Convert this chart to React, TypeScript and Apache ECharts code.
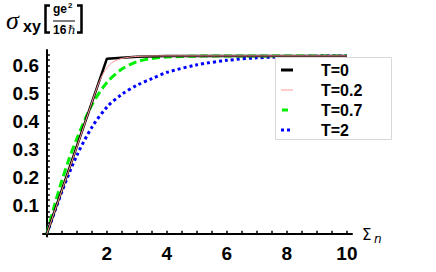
import React, { useEffect, useRef } from "react";
import * as echarts from "echarts";

const seriesNames = ["T=0", "T=0.2", "T=0.7", "T=2"];
const t0: [number, number][] = [[0, 0], [2, 0.625], [3, 0.632], [4, 0.635], [10, 0.635]];
const t02: [number, number][] = [[0, 0], [1, 0.31], [1.6, 0.5], [1.8, 0.556], [2, 0.592], [2.2, 0.613], [2.5, 0.626], [3, 0.633], [4, 0.635], [10, 0.635]];
const t07: [number, number][] = [[0, 0], [0.25, 0.1], [0.5, 0.19], [0.75, 0.27], [1, 0.34], [1.5, 0.46], [2, 0.54], [2.5, 0.588], [3, 0.614], [3.5, 0.626], [4, 0.631], [5, 0.634], [6, 0.635], [10, 0.635]];
const t2: [number, number][] = [[0, 0], [0.5, 0.15], [1, 0.28], [1.5, 0.38], [2, 0.452], [2.5, 0.498], [3, 0.53], [3.5, 0.554], [4, 0.576], [5, 0.603], [6, 0.619], [7, 0.628], [8, 0.632], [9, 0.634], [10, 0.635]];

const xTickValues = [0, 0.5, 1, 1.5, 2, 2.5, 3, 3.5, 4, 4.5, 5, 5.5, 6, 6.5, 7, 7.5, 8, 8.5, 9, 9.5, 10];
const xTickLabels = [2, 4, 6, 8, 10];
const yTickValues = [0.02, 0.04, 0.06, 0.08, 0.1, 0.12, 0.14, 0.16, 0.18, 0.2, 0.22, 0.24, 0.26, 0.28, 0.3, 0.32, 0.34, 0.36, 0.38, 0.4, 0.42, 0.44, 0.46, 0.48, 0.5, 0.52, 0.54, 0.56, 0.58, 0.6, 0.62, 0.64];
const yTickLabels = [0.1, 0.2, 0.3, 0.4, 0.5, 0.6];

const lineStyles = [
  { color: "#000", width: 2.5, type: "solid" as any },
  { color: "#ff9a9a", width: 1, type: "solid" as any },
  { color: "#00ee00", width: 3, type: [8, 4] as any },
  { color: "#0000ff", width: 3, type: [3, 3] as any },
];
const legendIcons = [
  { x1: 281, x2: 293, width: 3, dash: null as any },
  { x1: 281, x2: 293, width: 1, dash: null as any },
  { x1: 282, x2: 288, width: 3, dash: null as any },
  { x1: 281, x2: 290, width: 3, dash: [3, 3] },
];

export default function App() {
  const ref = useRef<HTMLDivElement>(null);
  useEffect(() => {
    if (!ref.current) return;
    const chart = echarts.init(ref.current, null, { renderer: "svg" });
    const font = "'Liberation Sans', Arial, sans-serif";
    const datas = [t0, t02, t07, t2];
    const legendGraphics: any[] = [
      { type: "rect", shape: { x: 275.5, y: 57.5, width: 116, height: 82 }, style: { fill: "#fff", stroke: "#d8d8d8", lineWidth: 1 }, z: 100 },
    ];
    seriesNames.forEach((name, i) => {
      const cy = 70 + i * 20;
      const ic = legendIcons[i];
      legendGraphics.push({
        type: "line",
        z: 101,
        shape: { x1: ic.x1, y1: cy, x2: ic.x2, y2: cy },
        style: { stroke: lineStyles[i].color, lineWidth: ic.width, lineDash: ic.dash || undefined },
      });
      legendGraphics.push({
        type: "text",
        z: 101,
        x: 321,
        y: cy,
        style: { text: name, font: `bold 16px ${font}`, fill: "#000", verticalAlign: "middle" },
      });
    });
    chart.setOption({
      animation: false,
      backgroundColor: "#fff",
      grid: { left: 43, top: 50, width: 309, height: 186.5 },
      xAxis: {
        type: "value",
        min: -0.13,
        max: 10.17,
        axisLine: { onZero: true, lineStyle: { color: "#000", width: 2 } },
        axisTick: { inside: true, length: 3, customValues: xTickValues, lineStyle: { color: "#000", width: 1.5 } },
        axisLabel: { customValues: xTickLabels, margin: 7, color: "#000", fontFamily: font, fontWeight: "bold", fontSize: 19 },
        splitLine: { show: false },
      },
      yAxis: {
        type: "value",
        min: -0.01,
        max: 0.656,
        axisLine: { onZero: true, lineStyle: { color: "#000", width: 2 } },
        axisTick: { inside: true, length: 3, customValues: yTickValues, lineStyle: { color: "#000", width: 1.5 } },
        axisLabel: { customValues: yTickLabels, margin: 4, color: "#000", fontFamily: font, fontWeight: "bold", fontSize: 19 },
        splitLine: { show: false },
      },
      series: seriesNames.map((name, i) => ({
        name,
        type: "line",
        data: datas[i],
        smooth: i === 0 ? false : 0.3,
        showSymbol: false,
        symbol: "none",
        z: [4, 5, 3, 2][i],
        lineStyle: lineStyles[i],
        itemStyle: { color: lineStyles[i].color },
      })),
      graphic: [
        { type: "text", left: 6, top: 7, style: { text: "σ", font: "italic 26px 'Liberation Serif', serif", fill: "#000" } },
        { type: "text", left: 23, top: 18, style: { text: "xy", font: "bold 16px 'Liberation Sans', sans-serif", fill: "#000" } },
        { type: "polyline", shape: { points: [[50, 5.5], [45.5, 5.5], [45.5, 32.5], [50, 32.5]] }, style: { stroke: "#000", lineWidth: 2.5, fill: null } },
        { type: "text", left: 53, top: 3, style: { text: "ge", font: "bold 12px 'Liberation Sans', sans-serif", fill: "#000" } },
        { type: "text", left: 68, top: 1, style: { text: "2", font: "bold 8px 'Liberation Sans', sans-serif", fill: "#000" } },
        { type: "line", shape: { x1: 53, y1: 21, x2: 75, y2: 21 }, style: { stroke: "#000", lineWidth: 1 } },
        { type: "text", left: 53, top: 24, style: { text: "16", font: "bold 12px 'Liberation Sans', sans-serif", fill: "#000" } },
        { type: "text", left: 68, top: 24, style: { text: "ℏ", font: "italic 12px 'DejaVu Serif', serif", fill: "#000" } },
        { type: "polyline", shape: { points: [[77, 5.5], [81.5, 5.5], [81.5, 32.5], [77, 32.5]] }, style: { stroke: "#000", lineWidth: 2.5, fill: null } },
        { type: "text", left: 362, top: 227, style: { text: "Σ", font: "15px 'DejaVu Sans', sans-serif", fill: "#000" } },
        { type: "text", left: 374, top: 233, style: { text: "n", font: "italic 12px 'DejaVu Sans', sans-serif", fill: "#000" } },
        ...legendGraphics,
      ],
    });
    return () => chart.dispose();
  }, []);
  return <div ref={ref} style={{ width: 436, height: 272, position: "absolute", left: 0, top: 0 }} />;
}
